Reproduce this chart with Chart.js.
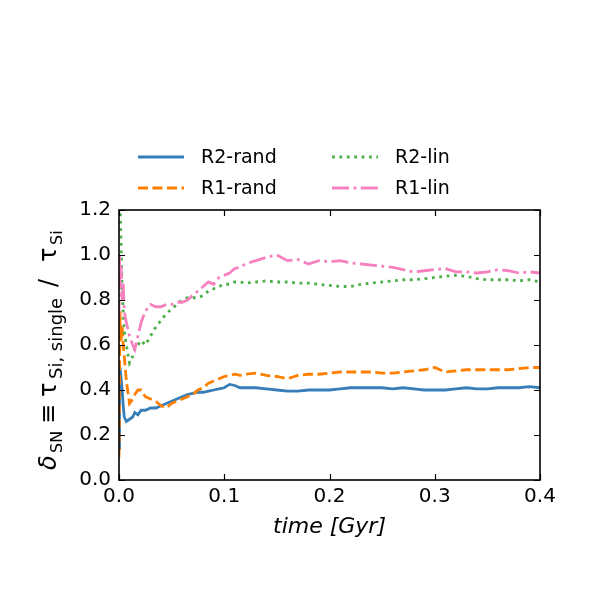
<!DOCTYPE html>
<html>
<head>
<meta charset="utf-8">
<script src="https://cdn.jsdelivr.net/npm/chart.js@4/dist/chart.umd.min.js"></script>
<style>
  html, body { margin: 0; padding: 0; background: #fff; }
  #wrap { width: 600px; height: 600px; position: relative; }
</style>
</head>
<body>
<div id="wrap"><canvas id="c" width="600" height="600"></canvas></div>
<script>
// tempo (Gyr) — amostragem fina no início
var tempo = [0, 0.0005, 0.001, 0.002, 0.003, 0.004, 0.005, 0.007, 0.010, 0.013, 0.015, 0.018, 0.021, 0.025,
  0.030, 0.035, 0.040, 0.045, 0.050, 0.055, 0.060, 0.065, 0.070, 0.075, 0.080, 0.085, 0.090, 0.095, 0.100,
  0.105, 0.110, 0.115, 0.120, 0.13, 0.14, 0.15, 0.16, 0.17, 0.18, 0.19, 0.20, 0.21, 0.22, 0.23, 0.24, 0.25,
  0.26, 0.27, 0.28, 0.29, 0.30, 0.31, 0.32, 0.33, 0.34, 0.35, 0.36, 0.37, 0.38, 0.39, 0.40];

var r2Rand = [0.14, 0.35, 0.50, 0.45, 0.40, 0.33, 0.28, 0.26, 0.27, 0.28, 0.30, 0.29, 0.31, 0.31,
  0.32, 0.32, 0.33, 0.34, 0.35, 0.36, 0.37, 0.38, 0.385, 0.39, 0.39, 0.395, 0.40, 0.405, 0.41,
  0.425, 0.42, 0.41, 0.41, 0.41, 0.405, 0.40, 0.395, 0.395, 0.40, 0.40, 0.40, 0.405, 0.41, 0.41, 0.41, 0.41,
  0.405, 0.41, 0.405, 0.40, 0.40, 0.40, 0.405, 0.41, 0.405, 0.405, 0.41, 0.41, 0.41, 0.415, 0.41];

var r1Rand = [0.10, 0.45, 0.75, 0.62, 0.68, 0.60, 0.55, 0.44, 0.34, 0.36, 0.38, 0.40, 0.40, 0.37,
  0.36, 0.35, 0.33, 0.32, 0.34, 0.35, 0.36, 0.37, 0.38, 0.40, 0.41, 0.43, 0.44, 0.45, 0.46,
  0.465, 0.47, 0.465, 0.47, 0.475, 0.465, 0.46, 0.45, 0.465, 0.47, 0.47, 0.475, 0.48, 0.48, 0.48, 0.48, 0.475,
  0.475, 0.48, 0.485, 0.49, 0.50, 0.48, 0.485, 0.49, 0.49, 0.49, 0.49, 0.49, 0.495, 0.50, 0.50];

var r2Lin = [1.25, 1.24, 1.22, 1.05, 0.84, 0.75, 0.66, 0.60, 0.52, 0.55, 0.58, 0.60, 0.62, 0.60,
  0.64, 0.68, 0.71, 0.74, 0.76, 0.78, 0.80, 0.81, 0.81, 0.81, 0.82, 0.84, 0.85, 0.86, 0.87,
  0.87, 0.88, 0.88, 0.875, 0.88, 0.885, 0.88, 0.88, 0.875, 0.875, 0.87, 0.865, 0.86, 0.86, 0.87, 0.875, 0.88,
  0.885, 0.89, 0.89, 0.895, 0.90, 0.905, 0.91, 0.905, 0.895, 0.89, 0.89, 0.89, 0.885, 0.89, 0.88];

var r1Lin = [0.72, 1.00, 0.85, 0.95, 0.80, 0.88, 0.75, 0.70, 0.64, 0.60, 0.58, 0.64, 0.70, 0.75,
  0.78, 0.77, 0.77, 0.78, 0.78, 0.79, 0.79, 0.80, 0.82, 0.84, 0.86, 0.88, 0.87, 0.90, 0.91,
  0.92, 0.94, 0.945, 0.96, 0.975, 0.99, 1.00, 0.975, 0.98, 0.96, 0.975, 0.97, 0.975, 0.965, 0.96, 0.955, 0.95,
  0.945, 0.935, 0.925, 0.93, 0.935, 0.94, 0.925, 0.925, 0.92, 0.925, 0.935, 0.93, 0.92, 0.925, 0.92];

var nomes = ['R2-rand', 'R1-rand', 'R2-lin', 'R1-lin'];
var cores = ['#377eb8', '#ff7f00', '#4daf4a', '#f781bf'];
var tracos = [[], [10, 4.5], [2.8, 4.6], [17, 4.5, 2.8, 4.5]];
var xTicks = [0, 0.1, 0.2, 0.3, 0.4];
var yTicks = [0, 0.2, 0.4, 0.6, 0.8, 1.0, 1.2];

var FONTE = '"DejaVu Sans", sans-serif';
var LW = 2.8;

function pontos(ys) {
  return tempo.map(function(t, i) { return { x: t, y: ys[i] }; });
}

var series = [r2Rand, r1Rand, r2Lin, r1Lin];
var datasets = series.map(function(s, i) {
  return {
    label: nomes[i], data: pontos(s), borderColor: cores[i], backgroundColor: cores[i],
    borderWidth: LW, borderDash: tracos[i], borderCapStyle: 'butt', pointRadius: 0,
    tension: 0, fill: false, order: 4 - i
  };
});

// moldura, ticks para dentro, legenda e rótulos dos eixos
var extras = {
  id: 'extras',
  afterDraw: function(chart) {
    var ctx = chart.ctx, a = chart.chartArea;
    var sx = chart.scales.x, sy = chart.scales.y;
    ctx.save();
    ctx.strokeStyle = '#000'; ctx.lineWidth = 1.2;
    xTicks.forEach(function(v) {
      var px = Math.round(sx.getPixelForValue(v)) + 0.5;
      ctx.beginPath(); ctx.moveTo(px, a.bottom); ctx.lineTo(px, a.bottom - 6);
      ctx.moveTo(px, a.top); ctx.lineTo(px, a.top + 6); ctx.stroke();
    });
    yTicks.forEach(function(v) {
      var py = Math.round(sy.getPixelForValue(v)) + 0.5;
      ctx.beginPath(); ctx.moveTo(a.left, py); ctx.lineTo(a.left + 6, py);
      ctx.moveTo(a.right, py); ctx.lineTo(a.right - 6, py); ctx.stroke();
    });
    ctx.lineWidth = 1.6;
    ctx.strokeRect(a.left, a.top, a.right - a.left, a.bottom - a.top);

    // legenda em 2 colunas
    var pos = [[138, 157], [138, 188], [332, 157], [332, 188]];
    ctx.font = '19px ' + FONTE; ctx.textBaseline = 'middle'; ctx.fillStyle = '#000';
    nomes.forEach(function(n, i) {
      var p = pos[i];
      ctx.strokeStyle = cores[i]; ctx.lineWidth = LW; ctx.setLineDash(tracos[i]); ctx.lineCap = 'butt';
      ctx.beginPath(); ctx.moveTo(p[0], p[1]); ctx.lineTo(p[0] + 46, p[1]); ctx.stroke();
      ctx.setLineDash([]);
      ctx.fillText(n, p[0] + 63, p[1] + 1);
    });

    // eixo x
    ctx.font = 'italic 22px ' + FONTE; ctx.textAlign = 'center'; ctx.textBaseline = 'alphabetic';
    ctx.fillText('time [Gyr]', (a.left + a.right) / 2, 533);

    // eixo y: pedaços com subscritos (início de cada pedaço ao longo do eixo)
    var partes = [
      ['δ', 'italic 24px', 0, 470], ['SN', '16px', 6, 453], ['≡', '24px', 0, 424],
      ['τ', '24px', 0, 397], ['Si, single', '18px', 6, 379],
      ['/', '24px', 0, 287], ['τ', '24px', 0, 262], ['Si', '16px', 6, 245]
    ];
    ctx.translate(56, 0);
    ctx.rotate(-Math.PI / 2);
    ctx.textAlign = 'left';
    partes.forEach(function(p) {
      ctx.font = p[1] + ' ' + FONTE;
      ctx.fillText(p[0], -p[3], p[2]);
    });
    ctx.restore();
  }
};

new Chart(document.getElementById('c').getContext('2d'), {
  type: 'line',
  data: { datasets: datasets },
  options: {
    responsive: false, animation: false, devicePixelRatio: 1,
    layout: { padding: { left: 0, top: 210, right: 60, bottom: 0 } },
    plugins: { legend: { display: false }, title: { display: false }, tooltip: { enabled: false } },
    scales: {
      x: {
        type: 'linear', min: 0, max: 0.4,
        afterFit: function(s) { s.height = 120; },
        afterBuildTicks: function(s) { s.ticks = xTicks.map(function(v) { return { value: v }; }); },
        grid: { display: false, drawTicks: false }, border: { display: false },
        ticks: { color: '#000', font: { family: FONTE, size: 20 }, padding: 5, maxRotation: 0,
          callback: function(v) { return v.toFixed(1); } }
      },
      y: {
        type: 'linear', min: 0, max: 1.2,
        afterFit: function(s) { s.width = 119; },
        afterBuildTicks: function(s) { s.ticks = yTicks.map(function(v) { return { value: v }; }); },
        grid: { display: false, drawTicks: false }, border: { display: false },
        ticks: { color: '#000', font: { family: FONTE, size: 20 }, padding: 8,
          callback: function(v) { return v.toFixed(1); } }
      }
    }
  },
  plugins: [extras]
});
</script>
</body>
</html>
